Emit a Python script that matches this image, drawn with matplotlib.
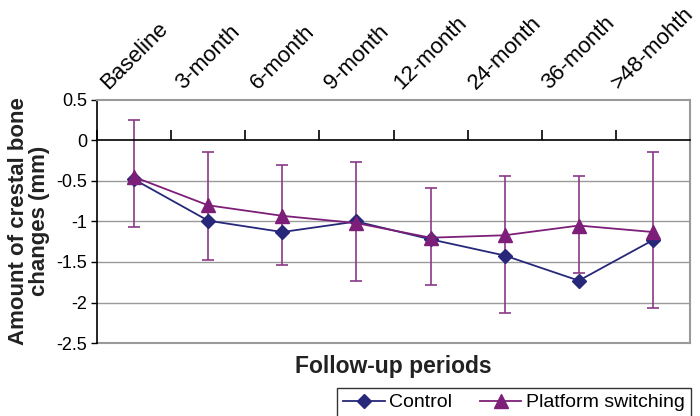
import matplotlib
matplotlib.use("Agg")
import matplotlib.pyplot as plt
import numpy as np

plt.rcParams['font.family'] = ['Liberation Sans', 'DejaVu Sans']

categories = ["Baseline", "3-month", "6-month", "9-month", "12-month",
              "24-month", "36-month", ">48-mohth"]
control = [-0.48, -0.99, -1.13, -1.00, -1.22, -1.42, -1.73, -1.23]
platform = [-0.45, -0.80, -0.93, -1.02, -1.20, -1.17, -1.05, -1.13]
ps_upper = [0.25, -0.14, -0.30, -0.27, -0.59, -0.44, -0.44, -0.14]
ps_lower = [-1.07, -1.47, -1.54, -1.74, -1.79, -2.13, -1.64, -2.07]
yticks = [0.5, 0, -0.5, -1, -1.5, -2, -2.5]

navy = "#27287a"
purple = "#7d1f78"
ebar = "#8a3a86"
gray = "#9a9a9a"

fig = plt.figure(figsize=(7, 4.16), dpi=100)
ax = fig.add_axes([97/700, 1-343/416, 593/700, 243/416])

x = np.arange(len(categories))
ax.set_xlim(-0.5, len(categories) - 0.5)
ax.set_ylim(-2.5, 0.5)

# gridlines
for yv in yticks:
    if yv not in (0, 0.5, -2.5):
        ax.axhline(yv, color=gray, lw=1.0, zorder=0)
ax.axhline(-2.5, color=gray, lw=1.5, zorder=0, clip_on=False)

pm = np.array(platform)
err = [pm - np.array(ps_lower), np.array(ps_upper) - pm]
ax.errorbar(x, platform, yerr=err, fmt='none', ecolor=ebar, elinewidth=1.2,
            capsize=4.5, capthick=1.2, zorder=2)
ax.plot(x, control, color=navy, lw=1.3, marker='D', markersize=7.5,
        markerfacecolor=navy, markeredgecolor=navy, label="Control", zorder=3)
ax.plot(x, platform, color=purple, lw=1.3, marker='^', markersize=10,
        markerfacecolor=purple, markeredgecolor=purple,
        label="Platform switching", zorder=4)

# spines
ax.spines['left'].set_color('black')
ax.spines['left'].set_linewidth(1.2)
ax.spines['top'].set_color(gray)
ax.spines['top'].set_linewidth(1.5)
ax.spines['right'].set_color(gray)
ax.spines['right'].set_linewidth(1.5)
ax.spines['bottom'].set_position(('data', 0))
ax.spines['bottom'].set_color('black')
ax.spines['bottom'].set_linewidth(1.2)

ax.set_yticks(yticks)
ax.set_yticklabels([f"{v:g}" for v in yticks])
ax.tick_params(axis='y', direction='out', length=4, width=1, labelsize=13,
               pad=3)

ax.set_xticks(x)
ax.set_xticklabels(categories)
ax.set_xticks(np.arange(-0.5, len(categories)), minor=True)
ax.tick_params(axis='x', which='major', bottom=False, top=True,
               labelbottom=False, labeltop=True, length=0, labelsize=16,
               pad=5)
ax.tick_params(axis='x', which='minor', bottom=True, top=False,
               direction='in', length=7, width=1.2, color='black')
for lab in ax.get_xticklabels():
    lab.set_rotation(45)
    lab.set_ha('center')
    lab.set_va('bottom')

fig.text(29/700, 1-221/416, "Amount of crestal bone\nchanges (mm)",
         rotation=90, ha='center', va='center', fontsize=16,
         fontweight='bold', linespacing=1.0, color='#222222')
fig.text(393/700, 1-366/416, "Follow-up periods", ha='center', va='center',
         fontsize=16.5, fontweight='bold', color='#222222')

leg = fig.legend(loc='upper right', bbox_to_anchor=(691/700, 1-388/416),
                 ncol=2, frameon=True, fontsize=14, handlelength=2.15,
                 columnspacing=1.4, handletextpad=0.25, borderpad=0.3,
                 borderaxespad=0, fancybox=False)
leg.get_frame().set_edgecolor('black')
leg.get_frame().set_linewidth(1.0)

fig.savefig("out.png", dpi=100)
